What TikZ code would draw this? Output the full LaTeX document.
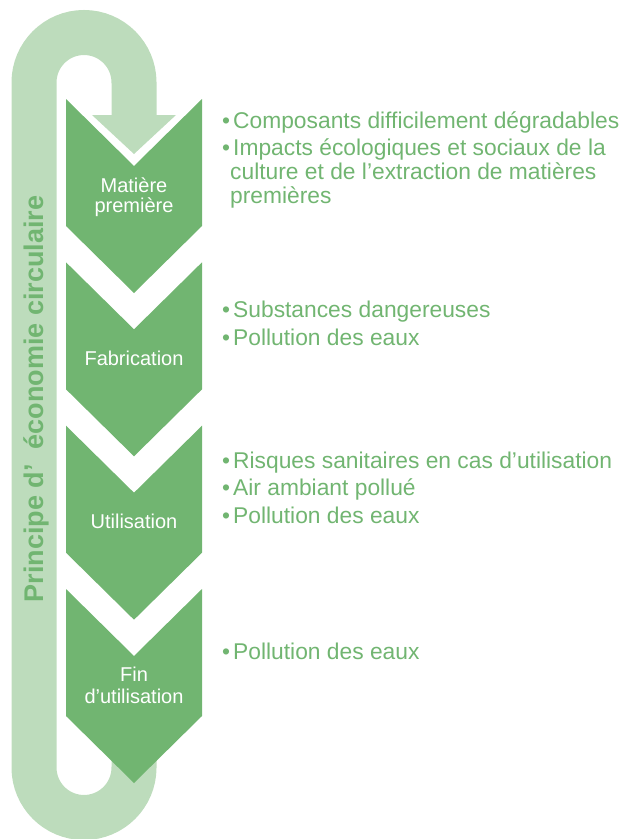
\documentclass[tikz,border=0pt]{standalone}
\usepackage{fontspec}
\setmainfont{Liberation Sans}
\definecolor{cgreen}{HTML}{71B571}
\definecolor{lgreen}{HTML}{BDDCBC}
\begin{document}
\begin{tikzpicture}[x=1pt,y=-1pt,
  stage/.style={fill=cgreen},
  stagelabel/.style={text=white,font=\fontsize{20}{20}\selectfont,inner sep=0,anchor=base},
  item/.style={text=cgreen,font=\fontsize{22.8}{24}\selectfont,anchor=base west,inner sep=0},
  loopband/.style={draw=lgreen,line width=45pt}]
\useasboundingbox (0,0) rectangle (624,839);
% circular loop
\draw[loopband] (134,116) -- (134,82.5) arc[start angle=0,end angle=180,radius=50pt]
  -- (34,767.5) arc[start angle=180,end angle=360,radius=50pt] -- (134,740);
\fill[lgreen] (92,115) -- (176,115) -- (134,154) -- cycle;
% chevrons
\foreach \t in {99,262.3,425.7,589}{
  \fill[stage] (66,\t) -- (134,{\t+67}) -- (202,\t) -- (202,{\t+127}) -- (134,{\t+194}) -- (66,{\t+127}) -- cycle;
}
% stage labels
\node[stagelabel] (s1a) at (134,192) {Matière};
\node[stagelabel] (s1b) at (134,212) {première};
\node[stagelabel] (s2) at (134,365.5) {Fabrication};
\node[stagelabel] (s3) at (134,528) {Utilisation};
\node[stagelabel] (s4a) at (134,681) {Fin};
\node[stagelabel] (s4b) at (134,703) {d’utilisation};
% vertical title
\node[rotate=90,text=cgreen,font=\bfseries\fontsize{27}{27}\selectfont,inner sep=0,anchor=base] (title) at (43.5,399) {Principe d’\ \ économie circulaire};
% items
\newcommand{\bl}{\makebox[11pt][l]{•}}
\node[item] (i1a) at (222,128) {\bl Composants difficilement dégradables};
\node[item] (i1b) at (222,155) {\bl Impacts écologiques et sociaux de la};
\node[item] (i1c) at (230,179) {culture et de l’extraction de matières};
\node[item] (i1d) at (230,203) {premières};
\node[item] (i2a) at (222,317) {\bl Substances dangereuses};
\node[item] (i2b) at (222,345) {\bl Pollution des eaux};
\node[item] (i3a) at (222,468) {\bl Risques sanitaires en cas d’utilisation};
\node[item] (i3b) at (222,495.5) {\bl Air ambiant pollué};
\node[item] (i3c) at (222,523) {\bl Pollution des eaux};
\node[item] (i4a) at (222,659) {\bl Pollution des eaux};
\end{tikzpicture}
\end{document}
